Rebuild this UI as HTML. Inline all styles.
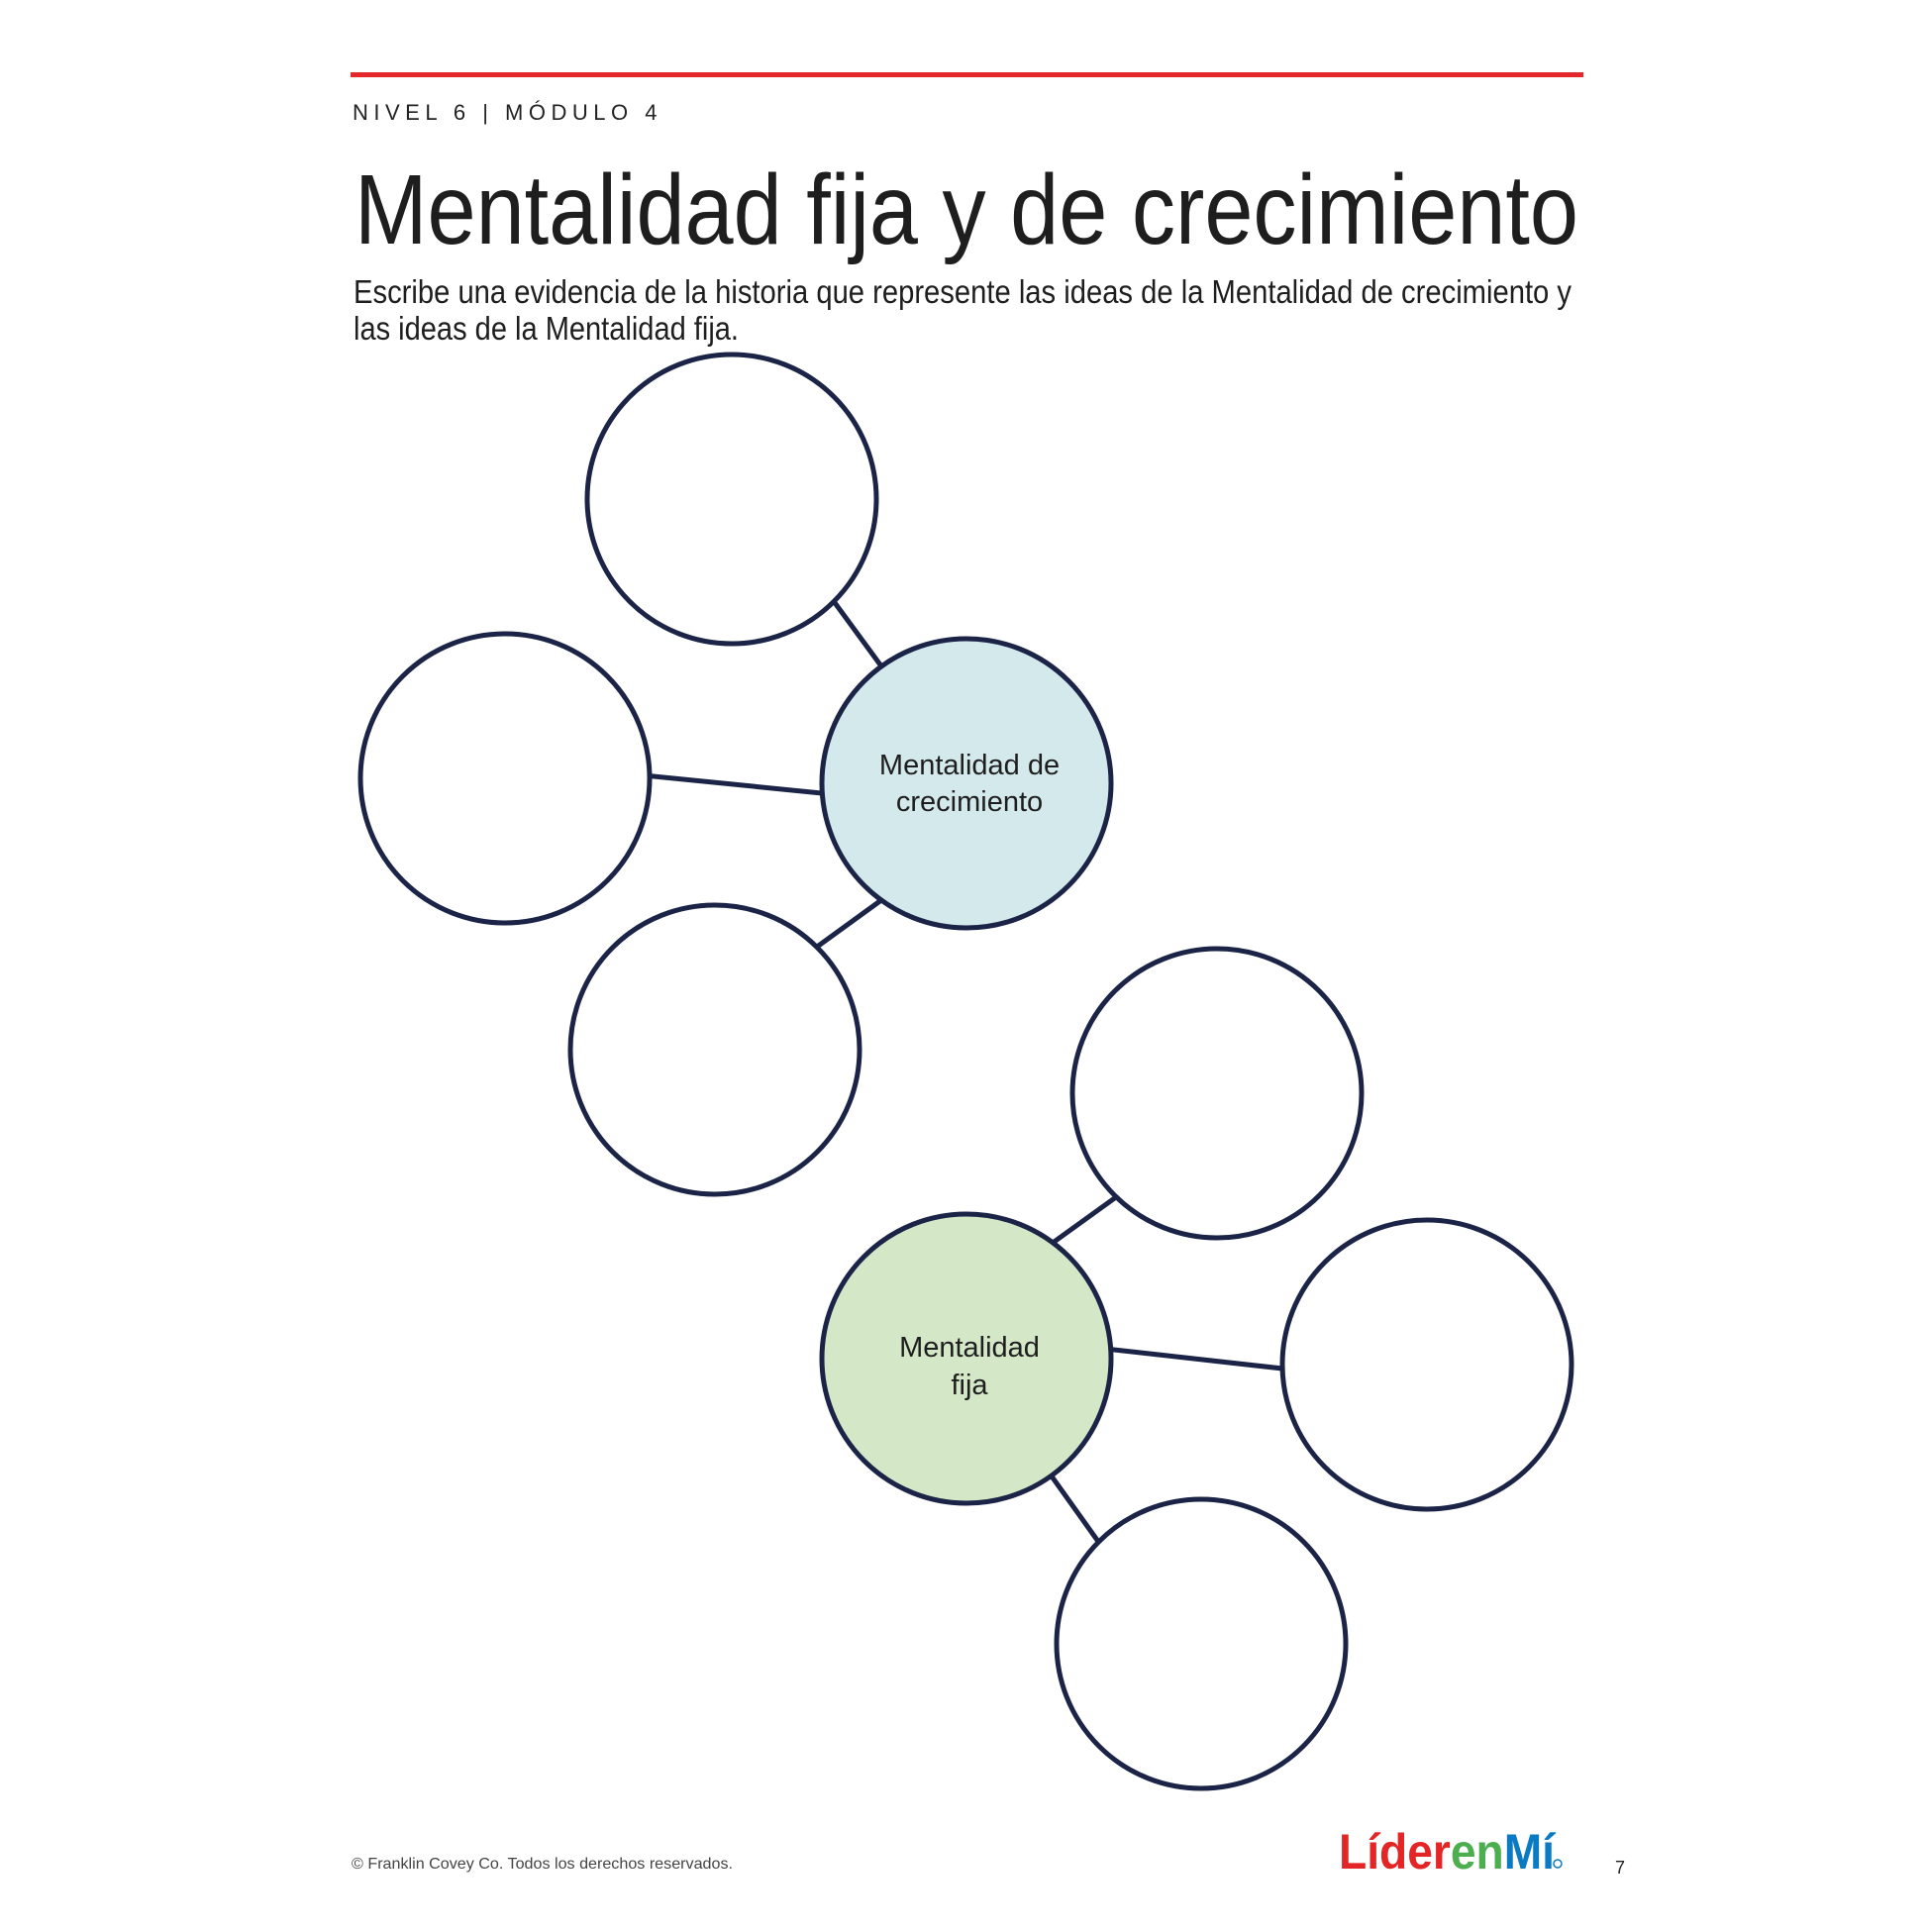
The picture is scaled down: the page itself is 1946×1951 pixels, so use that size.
<!DOCTYPE html>
<html><head><meta charset="utf-8"><style>html,body{margin:0;padding:0;background:#fff}</style></head>
<body>
<svg width="1946" height="1946" viewBox="0 0 1946 1946" xmlns="http://www.w3.org/2000/svg" font-family="Liberation Sans, sans-serif">
<rect x="354" y="73" width="1245" height="5" fill="#e5262b"/>
<text x="356" y="121" font-size="22" fill="#222" letter-spacing="5.5">NIVEL 6 | MÓDULO 4</text>
<text x="358" y="246" font-size="100" fill="#1e1e1e" textLength="1236" lengthAdjust="spacingAndGlyphs">Mentalidad fija y de crecimiento</text>
<text x="357" y="306" font-size="33" fill="#1e1e1e" textLength="1230" lengthAdjust="spacingAndGlyphs">Escribe una evidencia de la historia que represente las ideas de la Mentalidad de crecimiento y</text>
<text x="357" y="343" font-size="33" fill="#1e1e1e" textLength="389" lengthAdjust="spacingAndGlyphs">las ideas de la Mentalidad fija.</text>
<g stroke="#1b2447" stroke-width="5">
<line x1="800" y1="550" x2="910" y2="700"/>
<line x1="600" y1="778" x2="900" y2="808"/>
<line x1="770" y1="996" x2="930" y2="880"/>
<line x1="1020" y1="1286" x2="1170" y2="1178"/>
<line x1="1080" y1="1358" x2="1340" y2="1387"/>
<line x1="1030" y1="1446" x2="1140" y2="1600"/>
<circle cx="739" cy="504" r="146" fill="#fff"/>
<circle cx="510" cy="786" r="146" fill="#fff"/>
<circle cx="722" cy="1060" r="146" fill="#fff"/>
<circle cx="976" cy="791" r="146" fill="#d3e9ec"/>
<circle cx="1229" cy="1104" r="146" fill="#fff"/>
<circle cx="1441" cy="1378" r="146" fill="#fff"/>
<circle cx="1213" cy="1660" r="146" fill="#fff"/>
<circle cx="976" cy="1372" r="146" fill="#d4e8c8"/>
</g>
<g font-size="29" fill="#1e1e1e" text-anchor="middle">
<text x="979" y="782">Mentalidad de</text>
<text x="979" y="819">crecimiento</text>
<text x="979" y="1370">Mentalidad</text>
<text x="979" y="1408">fija</text>
</g>
<text x="355" y="1887" font-size="16" fill="#444" textLength="385" lengthAdjust="spacingAndGlyphs">© Franklin Covey Co. Todos los derechos reservados.</text>
<text x="1352" y="1887" font-size="50" font-weight="bold" textLength="218" lengthAdjust="spacingAndGlyphs"><tspan fill="#e42526">Líder</tspan><tspan fill="#4cae4f">en</tspan><tspan fill="#0a7ac2">Mí</tspan></text>
<circle cx="1573" cy="1882" r="4" fill="none" stroke="#0a7ac2" stroke-width="1.5"/>
<text x="1631" y="1892" font-size="18" fill="#222">7</text>
</svg>
</body></html>
